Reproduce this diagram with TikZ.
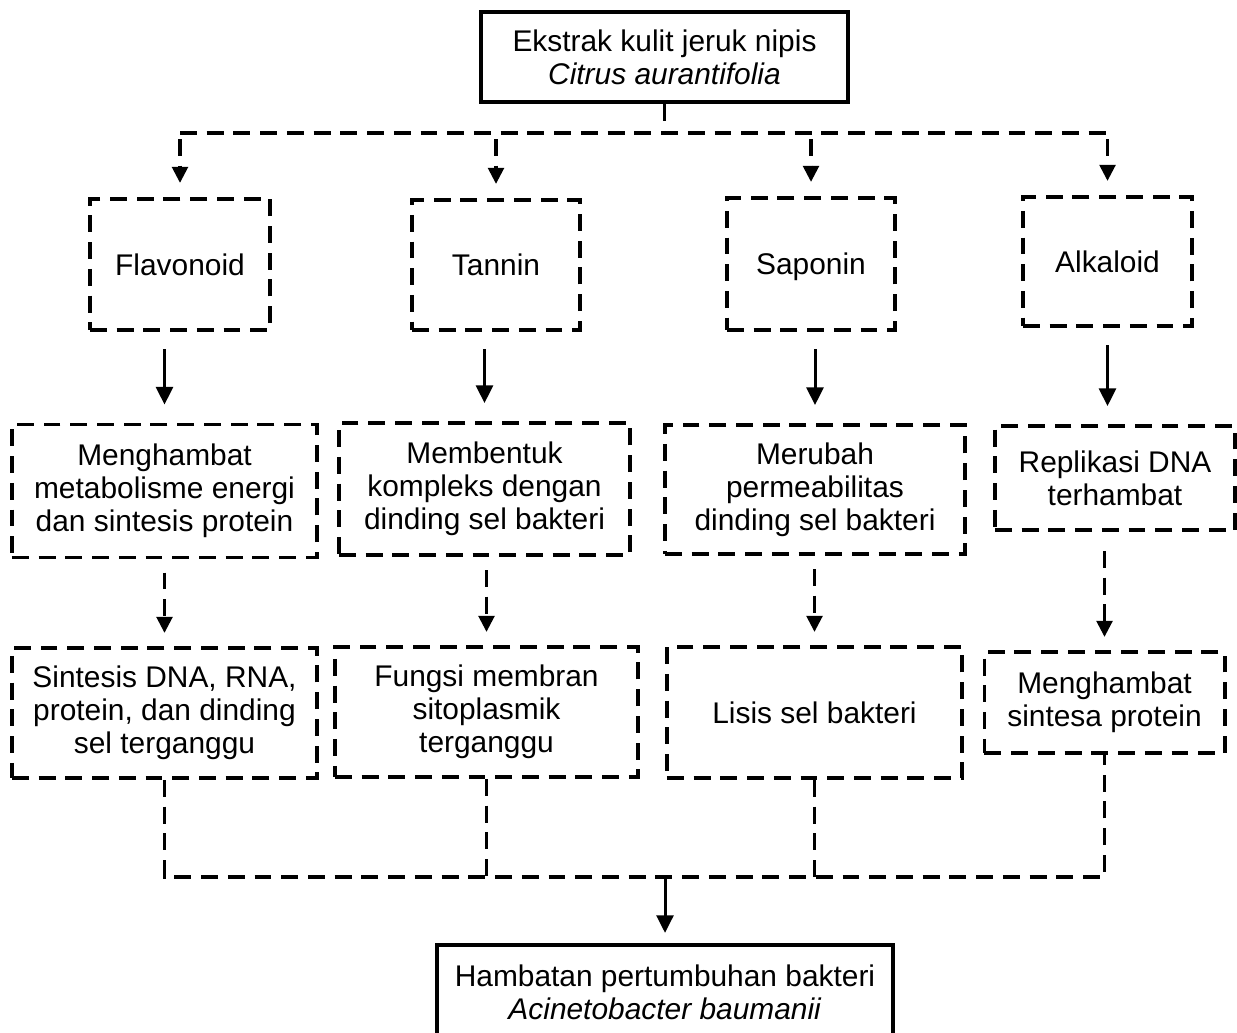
\documentclass[tikz,border=0pt]{standalone}
\usepackage{fontspec}
\setmainfont{Liberation Sans}
\usetikzlibrary{arrows.meta, positioning, calc}
\tikzset{
  basebox/.style={rectangle, align=center, inner sep=0pt,
                  font=\fontsize{8.5pt}{9.4pt}\selectfont},
  solidbox/.style={basebox, draw=black, line width=1.2pt},
  dashbox/.style={basebox, draw=black, line width=1.1pt,
                  dash pattern=on 4.8pt off 2.8pt},
  arrow/.style={-{Triangle[width=4.8pt,length=5pt]}, line width=0.85pt,
                shorten <=0.17cm, shorten >=0.18cm},
  dasharrow/.style={-{Triangle[width=4.4pt,length=4.6pt]}, line width=1.1pt,
                    dash pattern=on 4.8pt off 2.8pt,
                    shorten <=0.13cm, shorten >=0.13cm},
  dashline/.style={line width=1.1pt, dash pattern=on 4.8pt off 2.8pt}
}

\begin{document}
\begin{tikzpicture}[x=0.01cm, y=-0.01cm]
  \useasboundingbox (0,0) rectangle (1237,1032);
  \clip (0,0) rectangle (1237,1032);

  % Source
  \node[solidbox, minimum width=3.67cm, minimum height=0.90cm] (top) at (664.5,57)
      {Ekstrak kulit jeruk nipis\\\textit{Citrus aurantifolia}};

  % Compounds
  \node[dashbox, minimum width=1.80cm, minimum height=1.31cm] (flav) at (180,264.5) {Flavonoid};
  \node[dashbox, minimum width=1.68cm, minimum height=1.30cm] (tann) at (496,265) {Tannin};
  \node[dashbox, minimum width=1.68cm, minimum height=1.32cm, text depth=0pt] (sapo) at (811,264) {Saponin};
  \node[dashbox, minimum width=1.69cm, minimum height=1.29cm] (alka) at (1107.5,261.5) {Alkaloid};

  % Mechanisms
  \node[dashbox, minimum width=3.05cm, minimum height=1.33cm] (mhb) at (164.5,491)
      {Menghambat\\metabolisme energi\\dan sintesis protein};
  \node[dashbox, minimum width=2.91cm, minimum height=1.32cm] (kom) at (484.5,489)
      {Membentuk\\kompleks dengan\\dinding sel bakteri};
  \node[dashbox, minimum width=3.00cm, minimum height=1.29cm] (per) at (815,489.5)
      {Merubah\\permeabilitas\\dinding sel bakteri};
  \node[dashbox, minimum width=2.40cm, minimum height=1.04cm] (rep) at (1115,478)
      {Replikasi DNA\\terhambat};

  % Effects
  \node[dashbox, minimum width=3.05cm, minimum height=1.30cm] (sin) at (164.5,713)
      {Sintesis DNA, RNA,\\protein, dan dinding\\sel terganggu};
  \node[dashbox, minimum width=3.03cm, minimum height=1.30cm] (fng) at (486.5,712)
      {Fungsi membran\\sitoplasmik\\terganggu};
  \node[dashbox, minimum width=2.95cm, minimum height=1.31cm] (lis) at (814.5,712.5)
      {Lisis sel bakteri};
  \node[dashbox, minimum width=2.40cm, minimum height=1.01cm] (mhs) at (1104.5,702.5)
      {Menghambat\\sintesa protein};

  % Result
  \node[solidbox, minimum width=4.56cm, minimum height=0.94cm] (hmb) at (665,992)
      {Hambatan pertumbuhan bakteri\\\textit{Acinetobacter baumanii}};

  % Branching
  \coordinate (bus) at (664.5,133);
  \draw[dashline] (top) -- (bus);
  \draw[dashline] (bus -| flav) -- (bus -| alka);
  \foreach \n in {flav,tann,sapo,alka}
    \draw[dasharrow, shorten <=0.06cm, shorten >=0.14cm] (bus -| \n) -- (\n);

  % Compound -> mechanism
  \draw[arrow] (flav.south -| mhb) -- (mhb);
  \draw[arrow] (tann.south -| kom) -- (kom);
  \draw[arrow] (sapo.south -| per) -- (per);
  \draw[arrow] (alka) -- (alka |- rep.north);

  % Mechanism -> effect
  \draw[dasharrow] (mhb.south -| sin) -- (sin);
  \draw[dasharrow] (kom.south -| fng) -- (fng);
  \draw[dasharrow] (per.south -| lis) -- (lis);
  \draw[dasharrow, shorten <=0.19cm] (rep.south -| mhs) -- (mhs);

  % Merge
  \coordinate (mrg) at (665,877);
  \draw[dashline] (sin) -- (sin |- mrg) -- (mhs |- mrg) -- (mhs);
  \draw[dashline] (fng) -- (fng |- mrg);
  \draw[dashline] (lis) -- (lis |- mrg);
  \draw[arrow, shorten <=0pt, shorten >=0.1cm] (mrg) -- (hmb);
\end{tikzpicture}
\end{document}
